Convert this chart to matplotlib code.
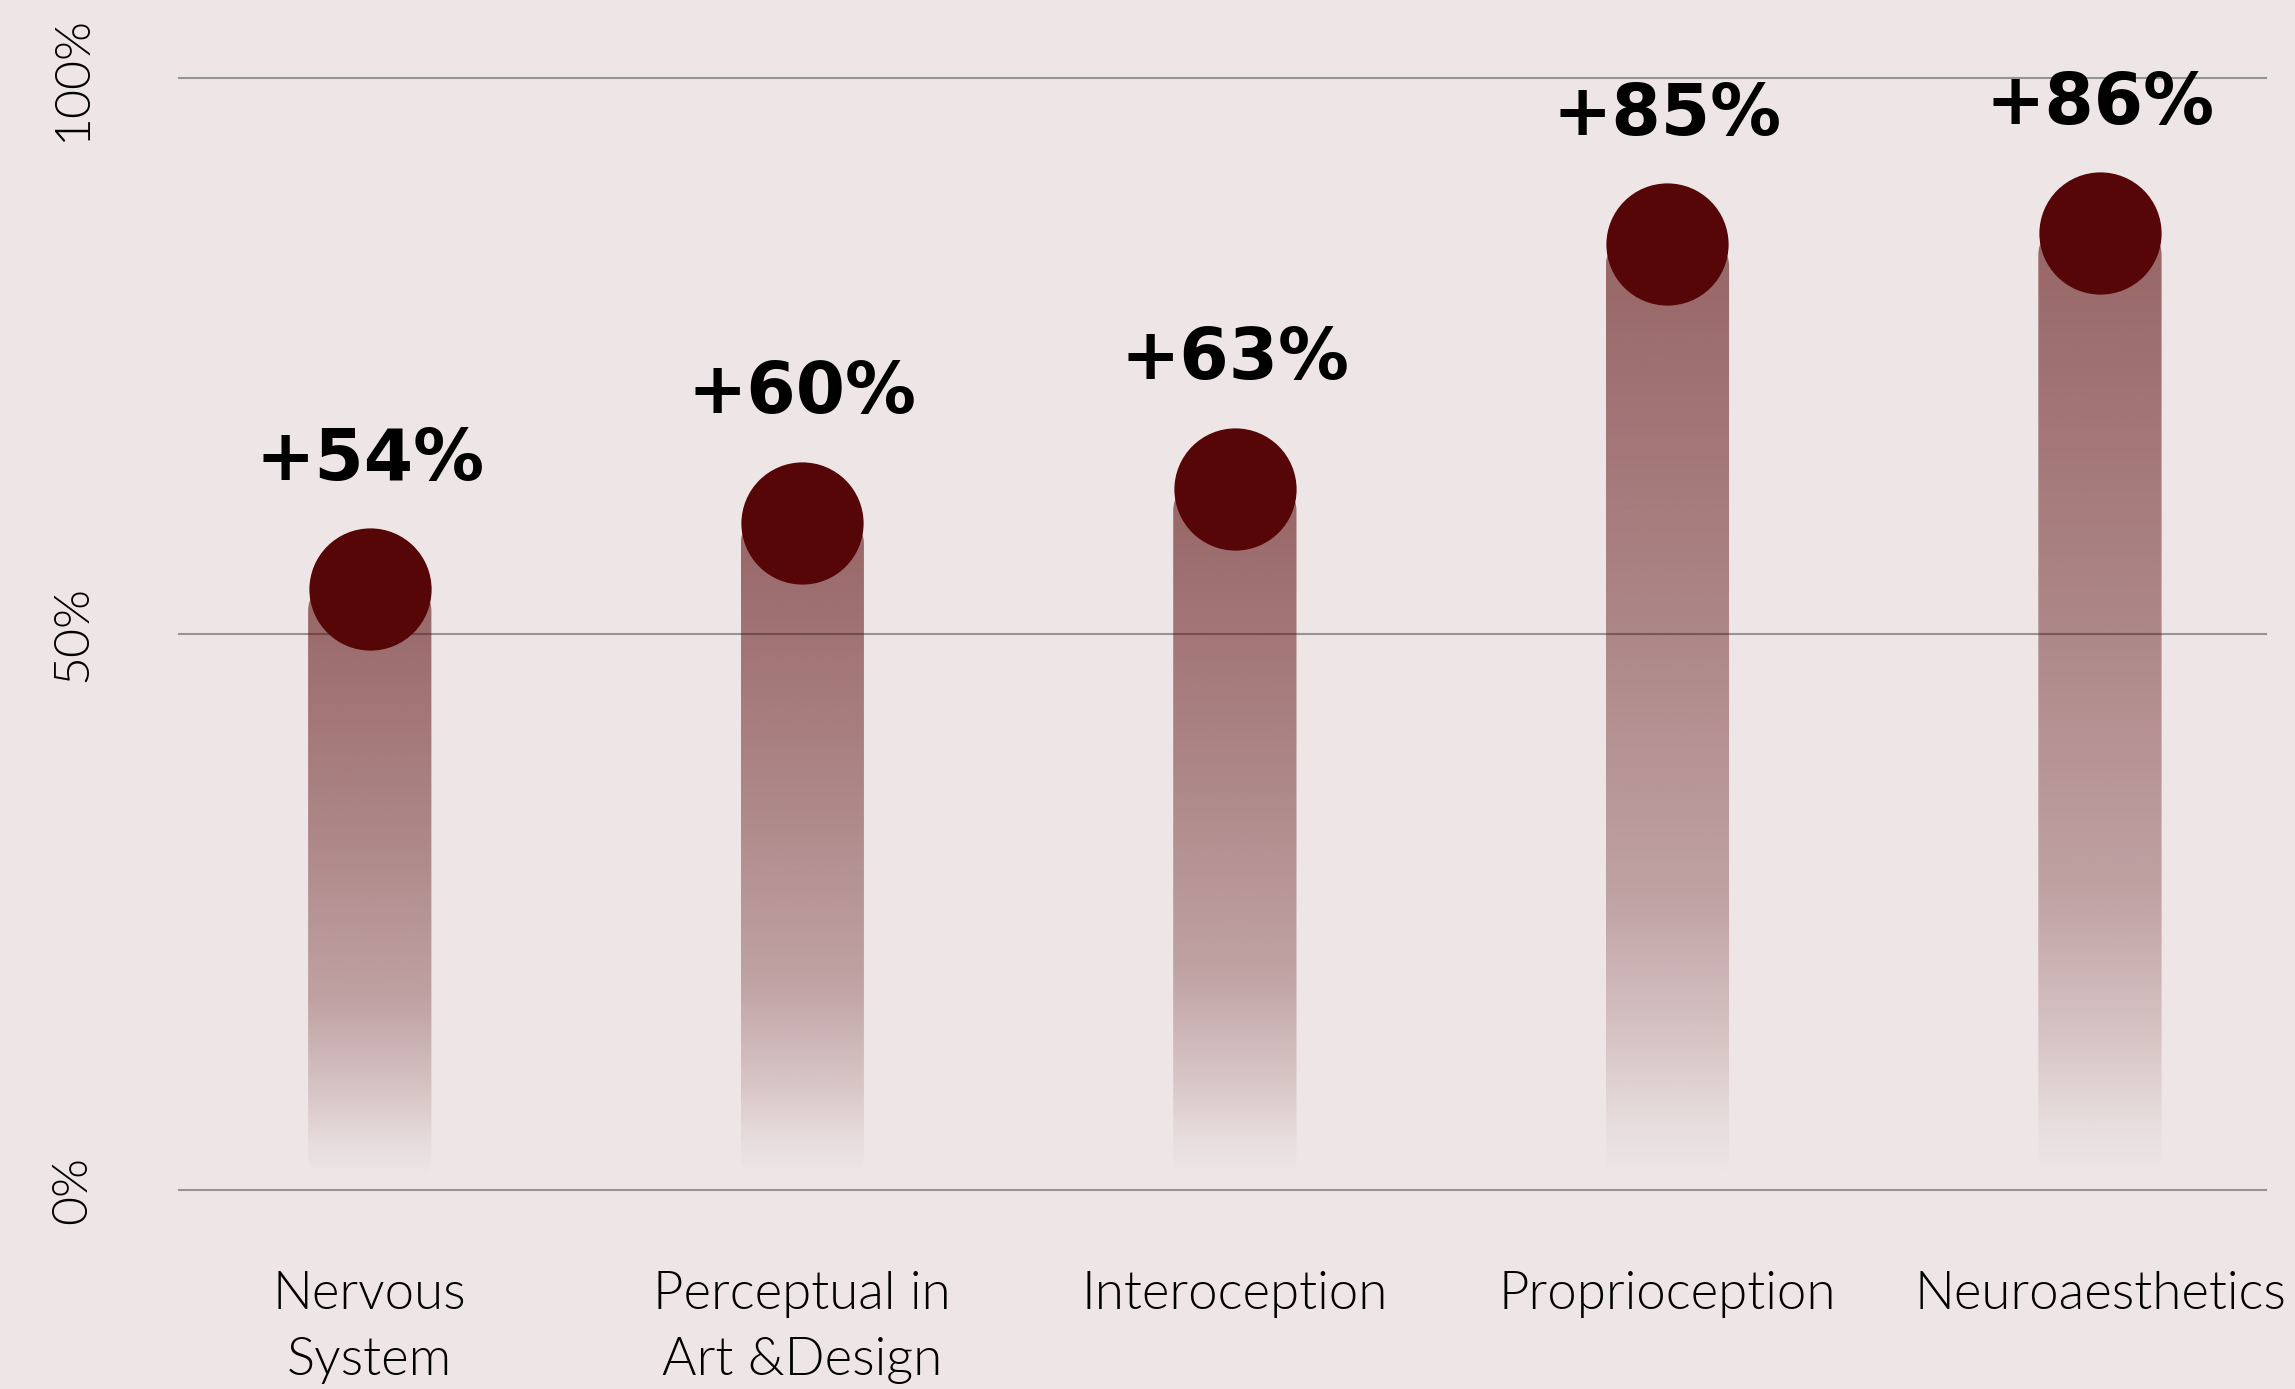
import numpy as np
import matplotlib.pyplot as plt
from matplotlib.patches import FancyBboxPatch
from matplotlib.colors import to_rgb

categories = ['Nervous\nSystem', 'Perceptual in\nArt &Design', 'Interoception', 'Proprioception', 'Neuroaesthetics']
values = [54, 60, 63, 85, 86]
yTicks = [0, 50, 100]
yTickLabels = ['0%', '50%', '100%']

bgColor = '#EDE5E6'
dotColor = '#570607'
gridColor = '#959595'
barWidth = 0.285
barBottom = 1.0
lightFont = 'Lato'

fig = plt.figure(figsize=(22.95, 13.89), dpi=100, facecolor=bgColor)
axPos = [0.0778, 0.1433, 0.9094, 0.8008]
ax = fig.add_axes(axPos)
ax.set_facecolor(bgColor)
xLim = (-0.442, 4.383)
ax.set_xlim(*xLim)
ax.set_ylim(0, 100)

# bars fade out towards the bottom
fadePos = [0, 0.05, 0.15, 0.3, 0.6, 1.0]
fadeAlpha = [0, 0.03, 0.15, 0.3, 0.43, 0.57]
t = np.linspace(0, 1, 256)
grad = np.zeros((256, 1, 4))
grad[..., :3] = to_rgb(dotColor)
grad[:, 0, 3] = np.interp(t, fadePos, fadeAlpha)

# aspect between x and y data units in pixels, for round corners
pxX = fig.get_figwidth() * fig.dpi * axPos[2] / (xLim[1] - xLim[0])
pxY = fig.get_figheight() * fig.dpi * axPos[3] / 100
aspect = pxX / pxY

for i, val in enumerate(values):
    x0 = i - barWidth / 2
    img = ax.imshow(grad, extent=[x0, x0 + barWidth, barBottom, val], origin='lower',
                    aspect='auto', interpolation='bilinear', zorder=2)
    clip = FancyBboxPatch((x0, barBottom), barWidth, val - barBottom,
                          boxstyle='round,pad=0,rounding_size=0.05', mutation_aspect=aspect,
                          transform=ax.transData, facecolor='none', edgecolor='none')
    img.set_clip_path(clip)

ax.scatter(range(len(values)), values, s=88 ** 2, color=dotColor, linewidths=0, zorder=3, clip_on=False)

for i, val in enumerate(values):
    ax.annotate(f'+{val}%', (i, val), xytext=(0, 79), textcoords='offset points', ha='center',
                va='baseline', fontsize=51, fontweight='bold', family='DejaVu Sans', color='black', zorder=4)

ax.set_xticks(range(len(categories)))
ax.set_xticklabels(categories, fontsize=38, family=lightFont, fontweight=300, linespacing=1.5)
ax.set_yticks(yTicks)
ax.set_yticklabels(yTickLabels, fontsize=36, family=lightFont, fontweight=300, rotation=90, va='center')
ax.tick_params(axis='x', length=0, pad=58, colors='black')
ax.tick_params(axis='y', length=0, pad=60, colors='black')

ax.yaxis.grid(True, color=gridColor, lw=1.5)
for gl in ax.get_ygridlines():
    gl.set_clip_on(False)
ax.set_axisbelow(True)
for s in ax.spines.values():
    s.set_visible(False)

fig.savefig('out.png', dpi=100, facecolor=bgColor)
